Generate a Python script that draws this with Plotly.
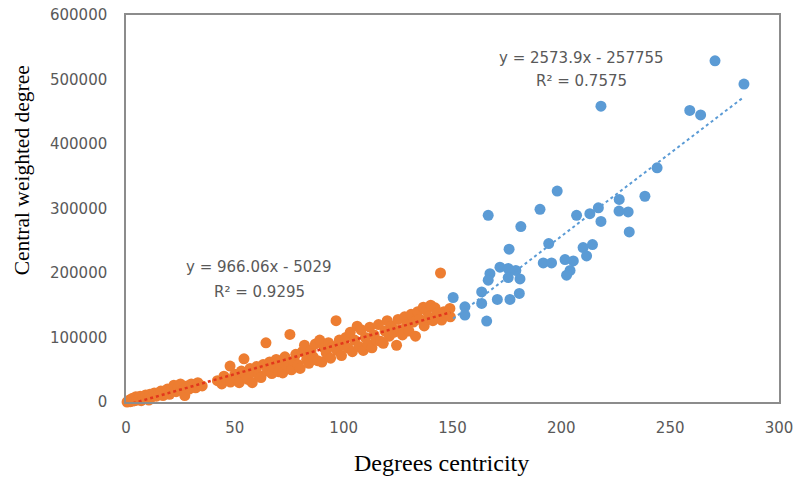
import plotly.graph_objects as go

# ---------------- data ----------------
# Series 1 (blue): degree centricity vs central weighted degree
blue_x = [270.6, 283.9, 218.2, 259.0, 264.0, 244.0, 198.1, 238.4, 166.4, 190.2,
          181.4, 226.6, 207.0, 213.1, 217.0, 218.2, 226.5, 230.7, 231.2, 176.0,
          194.2, 210.0, 214.3, 211.6, 191.7, 195.5, 201.7, 205.5, 204.0, 202.4,
          167.2, 171.8, 175.6, 179.1, 166.4, 175.6, 181.0, 180.7, 176.4, 170.6,
          163.4, 163.4, 150.3, 155.7, 155.7, 165.7]
blue_y = [529000, 493000, 458700, 452000, 445000, 363000, 327000, 319000, 289500, 298800,
          272000, 314000, 289500, 292000, 301000, 280000, 296000, 294600, 263600, 237000,
          245600, 239400, 244000, 226500, 215600, 215600, 220900, 218700, 204000, 196600,
          199000, 209000, 207000, 204000, 188900, 193000, 190800, 168300, 159000, 159000,
          170700, 152800, 162000, 147500, 134700, 125400]

# Series 2 (orange)
orange_x = [0.5, 1, 1.5, 2, 2.5, 3, 3, 4, 4.5, 5, 6, 6.5, 7, 8, 9, 10, 10.5, 11, 12, 13,
            14, 15, 16, 17, 18, 19, 20, 21, 22, 23, 24, 25, 26, 27, 28, 29, 30, 32, 33, 35,
            42, 44, 45, 46, 47.8, 48, 50, 51, 52, 53, 54.2, 55, 56, 57, 58, 59, 60, 61, 62, 63,
            64.3, 65, 66, 67, 68, 69, 70, 71, 72, 73, 74, 75.3, 76, 77, 78, 79, 80, 81, 82, 83,
            84, 85, 86, 87, 88, 89, 90, 91, 92, 93, 94, 95, 96.5, 97, 98, 99, 100, 101, 102, 103,
            104, 105, 106.2, 107, 108, 109, 110, 111, 112, 113, 114, 115, 116, 117, 118.2, 119, 120, 121, 122, 123,
            124.3, 125, 126, 127, 128, 129, 130, 131, 132, 133, 134, 135, 136.6, 137, 138, 139, 140, 141, 142, 143,
            144.5, 145, 146, 148.8, 149]
orange_y = [0, 1000, 3000, 500, 4000, 1500, 6000, 2000, 8000, 3000, 5000, 9000, 2000, 6000, 11000, 7000, 3000, 12000, 8000, 14000,
            9000, 13000, 17000, 10000, 15000, 20000, 12000, 21000, 26000, 16000, 23000, 28000, 18000, 10000, 25000, 20000, 28000, 22000, 30000, 25000,
            33000, 28000, 40000, 36000, 55700, 31000, 43000, 36000, 30000, 48000, 67000, 42000, 35000, 52000, 30000, 46000, 55000, 42000, 38000, 58000,
            91800, 48000, 62000, 44000, 54000, 66000, 47000, 58000, 45000, 70000, 56000, 104800, 50000, 64000, 74000, 58000, 52000, 78000, 88000, 66000,
            60000, 80000, 70000, 90000, 64000, 96000, 62000, 84000, 76000, 92000, 68000, 86000, 126000, 80000, 96000, 72000, 88000, 100000, 84000, 108000,
            78000, 96000, 117600, 86000, 112000, 80000, 100000, 90000, 116000, 84000, 104000, 96000, 120000, 94000, 91000, 110000, 126000, 102000, 118000, 108000,
            88000, 128000, 112000, 104000, 132000, 120000, 110000, 136000, 124000, 102000, 140000, 128000, 147000, 118000, 142000, 132000, 150000, 126000, 146000, 138000,
            200000, 127000, 140000, 145000, 132000]

# Linear trendlines (slope, intercept, R²) as printed on the chart
blue_fit = [2573.9, -257755, "0.7575"]
orange_fit = [966.06, -5029, "0.9295"]

x_ticks = [0, 50, 100, 150, 200, 250, 300]
y_ticks = [0, 100000, 200000, 300000, 400000, 500000, 600000]

x_title = "Degrees centricity"
y_title = "Central weighted degree"

# ---------------- figure ----------------
BLUE = "#5b9bd5"
ORANGE = "#ed7d31"
ORANGE_TREND = "#e2371c"

fig = go.Figure()

fig.add_trace(go.Scatter(x=blue_x, y=blue_y, mode="markers", cliponaxis=False,
                         marker=dict(size=11, color=BLUE), showlegend=False))
fig.add_trace(go.Scatter(x=orange_x, y=orange_y, mode="markers", cliponaxis=False,
                         marker=dict(size=11, color=ORANGE), showlegend=False))

def trend(xs, fit):
    x0, x1 = min(xs), max(xs)
    return [x0, x1], [fit[0] * x0 + fit[1], fit[0] * x1 + fit[1]]

tx, ty = trend(blue_x, blue_fit)
fig.add_trace(go.Scatter(x=tx, y=ty, mode="lines", showlegend=False,
                         line=dict(color=BLUE, width=2, dash="dot")))
tx, ty = trend(orange_x, orange_fit)
fig.add_trace(go.Scatter(x=tx, y=ty, mode="lines", showlegend=False,
                         line=dict(color=ORANGE_TREND, width=2.5, dash="dot")))

def eq_text(fit):
    s = f"{fit[0]:g}x"
    b = fit[1]
    return f"y = {s} - {abs(b)}" if b < 0 else f"y = {s} + {b}"

W0, W1, H0, H1 = 126, 779, 14.5, 402
def px(xp):
    return (xp - W0) / (W1 - W0)
def py(yp):
    return (H1 - yp) / (H1 - H0)

ann_font = dict(family="DejaVu Sans", size=15, color="#595959")
for text, cx, cy in [
    (eq_text(blue_fit), 581, 58),
    ("R² = " + blue_fit[2], 581, 81),
    (eq_text(orange_fit), 258, 267),
    ("R² = " + orange_fit[2], 259, 292),
]:
    fig.add_annotation(x=px(cx), y=py(cy), xref="paper", yref="paper",
                       text=text, showarrow=False, font=ann_font,
                       xanchor="center", yanchor="middle")

title_font = dict(family="Liberation Serif", size=23, color="#000000")
fig.add_annotation(x=px(441), y=py(463), xref="paper", yref="paper", text=x_title,
                   showarrow=False, xanchor="center", yanchor="middle",
                   font=dict(family="Liberation Serif", size=24, color="#000000"))
fig.add_annotation(x=px(22), y=py(170), xref="paper", yref="paper", text=y_title,
                   showarrow=False, xanchor="center", yanchor="middle", textangle=-90,
                   font=dict(family="Liberation Serif", size=21.5, color="#000000"))

axis_common = dict(showline=True, mirror=True, linecolor="#8c8c8c", linewidth=1.5,
                   showgrid=False, zeroline=False, ticks="",
                   tickfont=dict(family="DejaVu Sans", size=15, color="#595959"))

fig.update_xaxes(range=[0, 300], tickvals=x_ticks, ticktext=[str(v) for v in x_ticks],
                 ticklabelstandoff=11, **axis_common)
fig.update_yaxes(range=[0, 600000], tickvals=y_ticks, ticktext=[str(v) for v in y_ticks],
                 ticklabelstandoff=14, **axis_common)

fig.update_layout(width=796, height=480, margin=dict(l=126, r=17, t=15, b=78, autoexpand=False),
                  paper_bgcolor="white", plot_bgcolor="white")

fig.write_html("out.html")
